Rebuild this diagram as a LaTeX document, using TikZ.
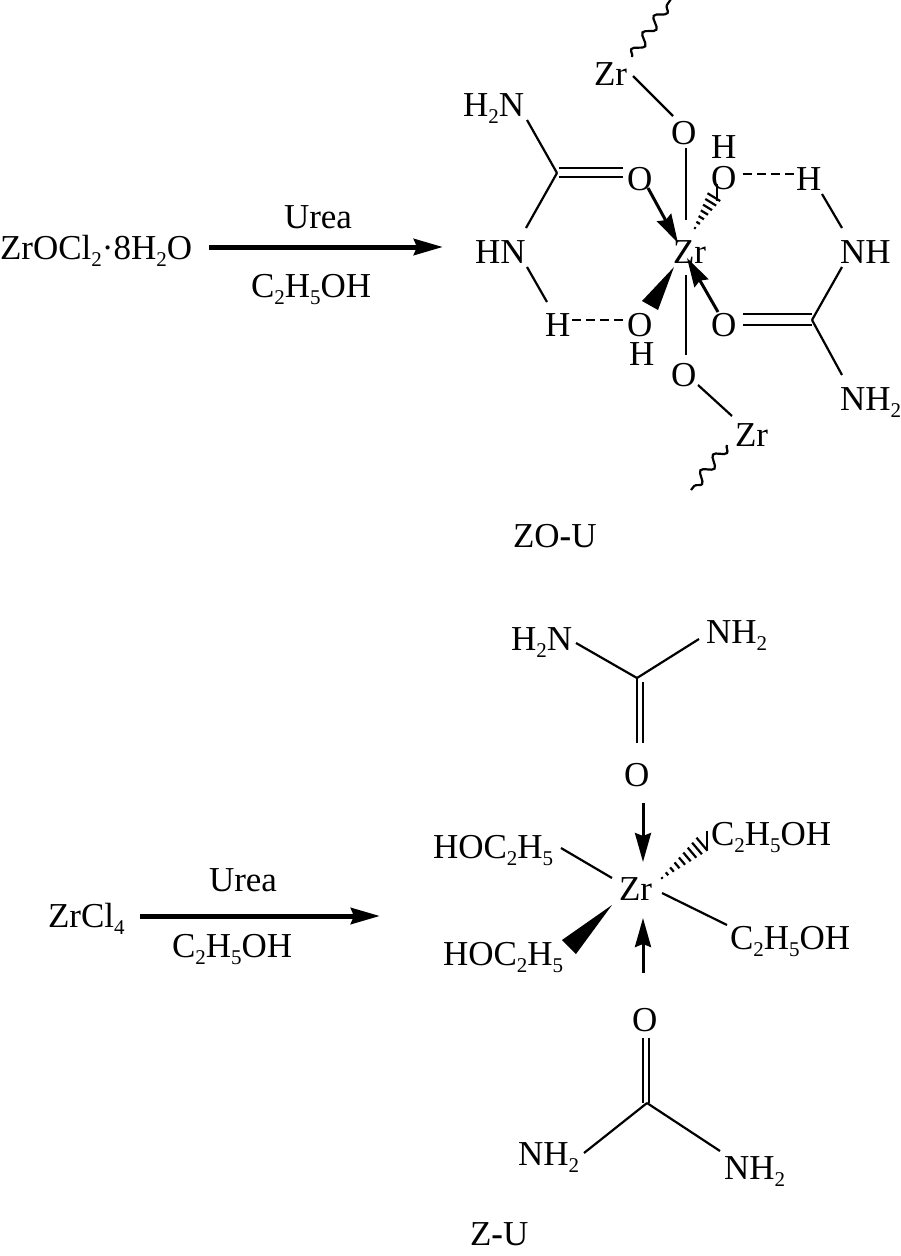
\documentclass[tikz,border=0pt]{standalone}
\usepackage{fontspec}
\setmainfont{Liberation Serif}
\usetikzlibrary{arrows.meta,calc,decorations.pathmorphing}
\newcommand{\SB}[1]{\raisebox{-7pt}{\fontsize{21}{21}\selectfont #1}}
\newcommand{\anc}[3]{([shift={(#2,#3)}]#1.base west)}
\newcommand{\hashes}[4]{% narrow, wide, half width, count
  \foreach \i in {0,...,#4}{
    \pgfmathsetmacro{\t}{\i/#4}
    \pgfmathsetmacro{\w}{1+(#3-1)*\t}
    \draw[hashline] ($(#1)!\t!(#2)!\w pt!90:(#2)$) -- ($(#1)!\t!(#2)!-\w pt!90:(#2)$);
  }}
\tikzset{
  lab/.style={anchor=base west,inner sep=0pt,outer sep=0pt,font=\fontsize{35}{35}\selectfont,text=black},
  bond/.style={line width=2.2pt,black},
  hashline/.style={line width=2.2pt,black},
  hbond/.style={line width=2.2pt,black,dash pattern=on 9pt off 5pt},
  wavy/.style={line width=2.2pt,black,decorate,decoration={snake,segment length=20pt,amplitude=5pt,pre length=0pt,post length=0pt}},
  dative/.style={line width=3pt,black,-{Stealth[length=29pt,width=16pt,inset=3pt]}},
  rxn/.style={line width=5pt,black,-{Stealth[length=29pt,width=16pt,inset=3pt]}},
  wedgefill/.style={fill=black,draw=none}
}
\begin{document}
\begin{tikzpicture}[x=1pt,y=-1pt]
\useasboundingbox (0,0) rectangle (900,1256);
% --- top reaction labels
\node[lab] (zo) at (0,259) {ZrOCl\SB{2}·8H\SB{2}O};
\node[lab] (urea1) at (284,228) {Urea};
\node[lab] (et1) at (251,297) {C\SB{2}H\SB{5}OH};
\node[lab] (zou) at (513,547) {ZO\textbf{-}U};
\coordinate (r1) at (443,247);
\draw[rxn] \anc{zo}{209}{-12} -- (r1);
% --- ZO-U atoms
\node[lab] (zrT) at (594,85) {Zr};
\node[lab] (oT) at (671,144) {O};
\node[lab] (h2nA) at (463,116) {H\SB{2}N};
\node[lab] (oA) at (627,190) {O};
\node[lab] (hB) at (711,158) {H};
\node[lab] (oB) at (711,189) {O};
\node[lab] (hC) at (796,190) {H};
\node[lab] (hnA) at (475,263) {HN};
\node[lab] (zrC) at (673,263) {Zr};
\node[lab] (nhB) at (840,263) {NH};
\node[lab] (hD) at (545,336) {H};
\node[lab] (oD) at (627,336) {O};
\node[lab] (hE) at (629,365) {H};
\node[lab] (oE) at (711,336) {O};
\node[lab] (oF) at (671,386) {O};
\node[lab] (nh2B) at (840,410) {NH\SB{2}};
\node[lab] (zrF) at (735,446) {Zr};
\coordinate (c1) at (557,173);
\coordinate (c2) at (812,320);
\coordinate (wT) at (671,-1);
\coordinate (wB) at (691,490);
% --- ZO-U bonds
\draw[wavy] \anc{zrT}{38}{-28} -- (wT);
\draw[bond] \anc{zrT}{39}{-9} -- \anc{oT}{2}{-28};
\draw[bond] \anc{oT}{15}{4} -- \anc{zrC}{13}{-43};
\draw[bond] \anc{zrC}{13}{12} -- \anc{oF}{15}{-31};
\draw[bond] \anc{oF}{27}{-1} -- \anc{zrF}{-3}{-30};
\draw[wavy] \anc{zrF}{-8}{-1} -- (wB);
\draw[bond] \anc{h2nA}{64}{4} -- (c1);
\draw[bond] (c1) -- \anc{hnA}{51}{-35};
\draw[bond] ([shift={(2,-5)}]c1) -- \anc{oA}{-4}{-22};
\draw[bond] ([shift={(2,4)}]c1) -- \anc{oA}{-4}{-13};
\draw[dative] \anc{oA}{21}{-2} -- \anc{zrC}{5}{-20};
\path \anc{zrC}{22}{-35} coordinate (hn1);
\path \anc{oB}{6}{3} coordinate (hw1);
\hashes{hn1}{hw1}{8.5}{7}
\draw[hbond] \anc{oB}{32}{-15} -- \anc{hC}{-1}{-16};
\draw[bond] \anc{hC}{26}{4} -- \anc{nhB}{2}{-35};
\draw[bond] \anc{hnA}{52}{4} -- \anc{hD}{2}{-34};
\draw[hbond] \anc{hD}{27}{-16} -- \anc{oD}{-4}{-16};
\fill[wedgefill] \anc{zrC}{1}{4} -- \anc{oD}{15}{-35} -- \anc{oD}{31}{-26} -- cycle;
\draw[dative] \anc{oE}{7}{-24} -- \anc{zrC}{14}{-5};
\draw[bond] \anc{oE}{32}{-22} -- ([shift={(0,-6)}]c2);
\draw[bond] \anc{oE}{32}{-11} -- ([shift={(0,5)}]c2);
\draw[bond] \anc{nhB}{2}{4} -- (c2);
\draw[bond] (c2) -- \anc{nh2B}{2}{-35};
% --- bottom reaction labels
\node[lab] (zc) at (48,927) {ZrCl\SB{4}};
\node[lab] (urea2) at (209,891) {Urea};
\node[lab] (et2) at (172,957) {C\SB{2}H\SB{5}OH};
\node[lab] (zu) at (470,1245) {Z\textbf{-}U};
\coordinate (r2) at (380,916);
\draw[rxn] \anc{zc}{92}{-11} -- (r2);
% --- Z-U atoms
\node[lab] (h2nC) at (511,650) {H\SB{2}N};
\node[lab] (nh2C) at (706,643) {NH\SB{2}};
\node[lab] (oG) at (624,786) {O};
\node[lab] (zrG) at (619,900) {Zr};
\node[lab] (hocU) at (433,858) {HOC\SB{2}H\SB{5}};
\node[lab] (cU) at (711,845) {C\SB{2}H\SB{5}OH};
\node[lab] (hocD) at (443,965) {HOC\SB{2}H\SB{5}};
\node[lab] (cD) at (730,949) {C\SB{2}H\SB{5}OH};
\node[lab] (oH) at (632,1031) {O};
\node[lab] (nh2D) at (518,1165) {NH\SB{2}};
\node[lab] (nh2E) at (724,1179) {NH\SB{2}};
\coordinate (c3) at (637,678);
\coordinate (c4) at (647,1103);
% --- Z-U bonds
\draw[bond] \anc{h2nC}{65}{-7} -- (c3);
\draw[bond] \anc{nh2C}{-7}{-4} -- (c3);
\draw[bond] (c3) -- \anc{oG}{13}{-43};
\draw[bond] ([shift={(6,4)}]c3) -- \anc{oG}{19}{-43};
\draw[dative] \anc{oG}{19}{17} -- \anc{zrG}{24}{-38};
\draw[bond] \anc{hocU}{128}{-10} -- \anc{zrG}{-7}{-22};
\path \anc{zrG}{43}{-22} coordinate (hn2);
\path \anc{cU}{-4}{-5} coordinate (hw2);
\hashes{hn2}{hw2}{9.5}{9}
\draw[bond] \anc{zrG}{43}{-7} -- \anc{cD}{-3}{-24};
\fill[wedgefill] \anc{zrG}{-7}{5} -- \anc{hocD}{119}{-25} -- \anc{hocD}{133}{-11} -- cycle;
\draw[dative] \anc{oH}{11}{-58} -- \anc{zrG}{24}{18};
\draw[bond] \anc{oH}{11}{7} -- ([shift={(-4,0)}]c4);
\draw[bond] \anc{oH}{17}{7} -- ([shift={(2,0)}]c4);
\draw[bond] (c4) -- \anc{nh2D}{66}{-12};
\draw[bond] (c4) -- \anc{nh2E}{-4}{-28};
\end{tikzpicture}
\end{document}
